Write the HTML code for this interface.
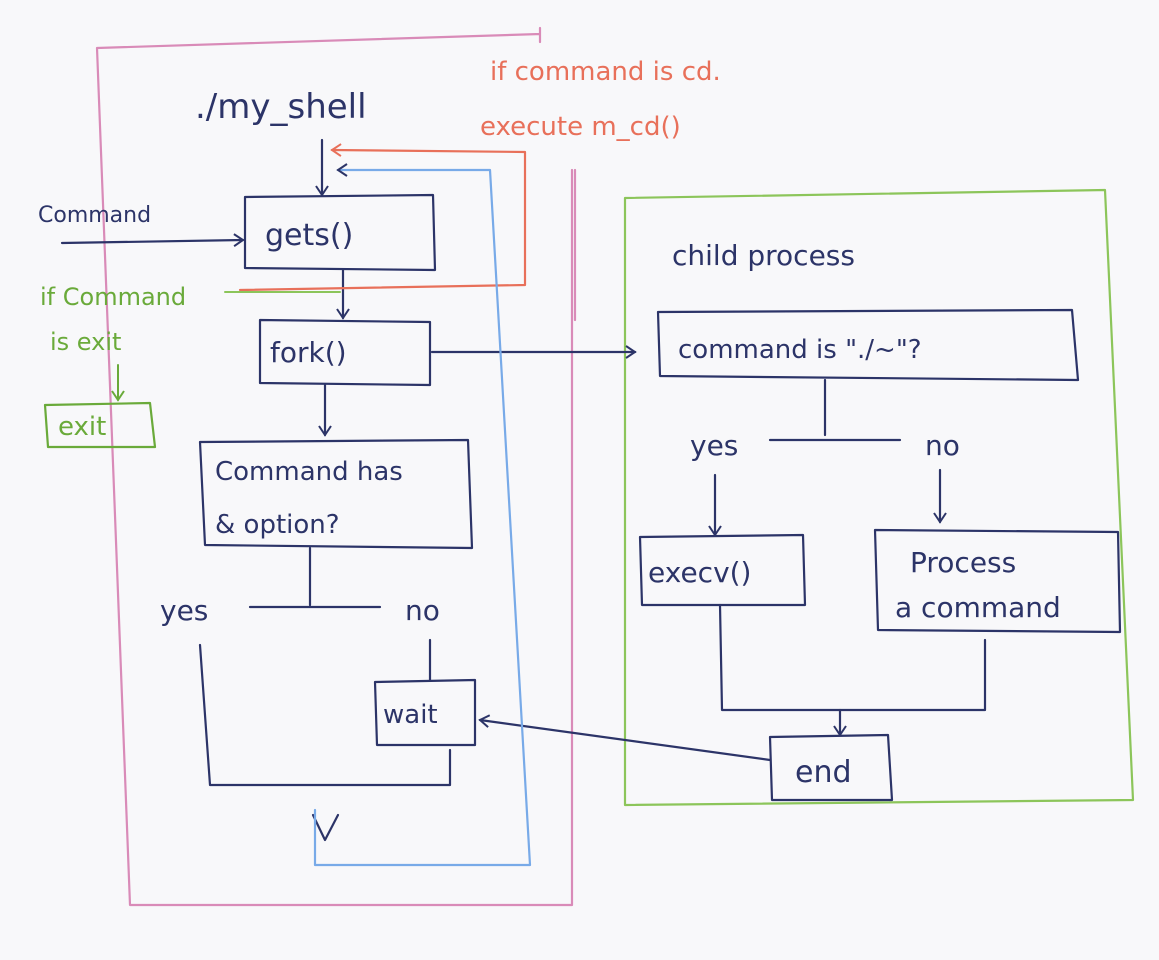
<!DOCTYPE html>
<html><head><meta charset="utf-8"><style>
html,body{margin:0;padding:0;background:#f8f8fa;}
svg{display:block}
text{font-family:"DejaVu Sans","Liberation Sans",sans-serif;}
</style></head><body>
<svg width="1159" height="960" viewBox="0 0 1159 960" xmlns="http://www.w3.org/2000/svg">
<defs>
<marker id="a" markerWidth="14" markerHeight="14" refX="10" refY="7" orient="auto" markerUnits="userSpaceOnUse">
<path d="M1,1 L10,7 L1,13" fill="none" stroke="#2c3468" stroke-width="2"/></marker>
<marker id="ag" markerWidth="14" markerHeight="14" refX="10" refY="7" orient="auto" markerUnits="userSpaceOnUse">
<path d="M1,1 L10,7 L1,13" fill="none" stroke="#6aaa3a" stroke-width="2"/></marker>
<marker id="ar" markerWidth="14" markerHeight="14" refX="10" refY="7" orient="auto" markerUnits="userSpaceOnUse">
<path d="M1,1 L10,7 L1,13" fill="none" stroke="#e8705a" stroke-width="2"/></marker>
</defs>
<g fill="none" stroke-linecap="round" stroke-linejoin="round">
<!-- pink frame -->
<path d="M540,42 L540,28 M97,48 L540,34 M97,48 L130,905 L572,905 L572,170 M575,170 L575,320" stroke="#d98bb8" stroke-width="2.2"/>
<!-- green frame -->
<path d="M625,198 L1105,190 L1133,800 L625,805 Z" stroke="#8cc55a" stroke-width="2.2"/>
<g stroke="#2c3468" stroke-width="2.2">
<!-- gets -->
<path d="M245,197 L433,195 L435,270 L245,268 Z"/>
<path d="M322,140 L322,195" marker-end="url(#a)"/>
<path d="M62,243 L243,240" marker-end="url(#a)"/>
<path d="M343,270 L343,318" marker-end="url(#a)"/>
<!-- fork -->
<path d="M260,320 L430,322 L430,385 L260,383 Z"/>
<path d="M432,352 L635,352" marker-end="url(#a)"/>
<path d="M325,385 L325,435" marker-end="url(#a)"/>
<!-- decision -->
<path d="M200,442 L468,440 L472,548 L205,545 Z"/>
<path d="M310,548 L310,605 M250,607 L380,607"/>
<path d="M200,645 L210,785 L450,785 L450,750"/>
<path d="M430,640 L430,680"/>
<path d="M375,682 L475,680 L475,745 L377,745 Z"/>
<path d="M313,815 L325,840 L338,815"/>
<path d="M770,760 L480,720" marker-end="url(#a)"/>
<!-- child -->
<path d="M658,312 L1072,310 L1078,380 L660,376 Z"/>
<path d="M825,380 L825,435 M770,440 L900,440"/>
<path d="M715,475 L715,535" marker-end="url(#a)"/>
<path d="M940,470 L940,522" marker-end="url(#a)"/>
<path d="M640,537 L803,535 L805,605 L642,605 Z"/>
<path d="M875,530 L1118,532 L1120,632 L878,630 Z"/>
<path d="M720,605 L722,710 L985,710 L985,640"/>
<path d="M840,710 L840,735" marker-end="url(#a)"/>
<path d="M770,737 L888,735 L892,800 L772,800 Z"/>
</g>
<!-- red loop -->
<path d="M240,290 L525,285 L525,152 L332,150" stroke="#e8705a" stroke-width="2.2" marker-end="url(#ar)"/>
<!-- blue loop -->
<path d="M315,810 L315,865 L530,865 L490,170 L338,170" stroke="#78aae8" stroke-width="2.2" marker-end="url(#a)"/>
<!-- green exit -->
<path d="M225,292 L340,292" stroke="#8cc55a" stroke-width="2"/>
<path d="M118,365 L118,400" stroke="#6aaa3a" stroke-width="2" marker-end="url(#ag)"/>
<path d="M45,405 L150,403 L155,447 L48,447 Z" stroke="#6aaa3a" stroke-width="2.2"/>
</g>
<g fill="#2c3468">
<text x="195" y="118" font-size="34">./my_shell</text>
<text x="38" y="222" font-size="22">Command</text>
<text x="265" y="245" font-size="30">gets()</text>
<text x="270" y="362" font-size="28">fork()</text>
<text x="215" y="480" font-size="26">Command has</text>
<text x="215" y="533" font-size="26">&amp; option?</text>
<text x="160" y="620" font-size="28">yes</text>
<text x="405" y="620" font-size="28">no</text>
<text x="383" y="723" font-size="26">wait</text>
<text x="672" y="265" font-size="28">child process</text>
<text x="678" y="358" font-size="26">command is "./~"?</text>
<text x="690" y="455" font-size="28">yes</text>
<text x="925" y="455" font-size="28">no</text>
<text x="648" y="582" font-size="28">execv()</text>
<text x="910" y="572" font-size="28">Process</text>
<text x="895" y="617" font-size="28">a command</text>
<text x="795" y="782" font-size="30">end</text>
</g>
<g fill="#e8705a" font-size="26">
<text x="490" y="80">if command is cd.</text>
<text x="480" y="135">execute m_cd()</text>
</g>
<g fill="#6aaa3a" font-size="24">
<text x="40" y="305">if Command</text>
<text x="50" y="350">is exit</text>
<text x="58" y="435" font-size="26">exit</text>
</g>
</svg>
</body></html>
